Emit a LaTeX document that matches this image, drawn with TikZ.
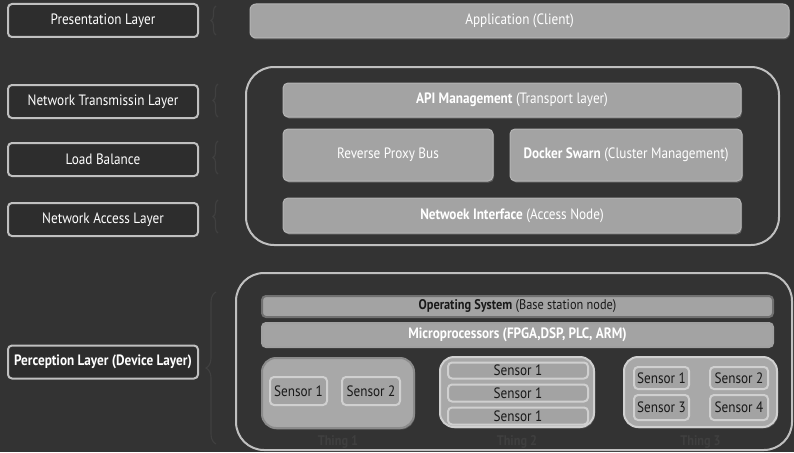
\documentclass[tikz,border=0pt]{standalone}
\usepackage{fontspec}
\setmainfont{PT Sans}[FakeStretch=0.88]
\usetikzlibrary{positioning,decorations.pathreplacing,shadows}
\definecolor{bgdark}{RGB}{51,51,51}
\definecolor{labelfill}{RGB}{45,45,45}
\definecolor{rimgray}{RGB}{192,192,192}
\definecolor{boxgray}{RGB}{163,163,163}
\definecolor{boxrim}{RGB}{180,180,180}
\definecolor{darkrim}{RGB}{112,112,112}
\definecolor{thingfill}{RGB}{168,168,168}
\definecolor{sensorrim}{RGB}{208,208,208}
\definecolor{ghost}{RGB}{64,64,64}

\begin{document}
\begin{tikzpicture}[x=1pt,y=-1pt,every node/.style={font=\fontsize{15}{17}\selectfont,align=center,inner sep=0pt},
  layerbox/.style={draw=rimgray,line width=2pt,rounded corners=4pt,fill=labelfill,text=white,minimum width=190pt,minimum height=33pt},
  graybox/.style={draw=boxrim,line width=1pt,rounded corners=5pt,fill=boxgray,text=white,drop shadow={opacity=0.55,shadow xshift=1pt,shadow yshift=-1.5pt}},
  container/.style={draw=rimgray,line width=2pt,rounded corners=28pt,fill=bgdark},
  barbox/.style={line width=2pt,rounded corners=4pt,fill=boxgray,minimum width=511pt},
  thingbox/.style={line width=2pt,rounded corners=14pt,fill=thingfill,minimum height=70pt,drop shadow={opacity=0.5,shadow xshift=1pt,shadow yshift=-1.5pt}},
  sensorbox/.style={draw=sensorrim,line width=2pt,rounded corners=4pt,fill=boxgray,text=black!90},
  ghostbrace/.style={draw=ghost,line width=1.1pt,decorate,decoration={brace,amplitude=5pt}},
  thinglabel/.style={text=ghost!92!bgdark,font=\fontsize{14}{16}\selectfont\bfseries}]
\fill[bgdark] (0,0) rectangle (794,452);
% left column
\node[layerbox] (pres) at (103,20.5) {Presentation Layer};
\node[layerbox,below=46pt of pres] (ntl) {Network Transmissin Layer};
\node[layerbox,below=23pt of ntl] (lb) {Load Balance};
\node[layerbox,below=25pt of lb] (nal) {Network Access Layer};
\node[layerbox,font=\fontsize{15}{17}\selectfont\bfseries] (perc) at (103,362) {Perception Layer (Device Layer)};
\draw[ghostbrace] (216,35) -- (216,6);
\draw[ghostbrace] (218,117) -- (218,84);
\draw[ghostbrace] (218,174) -- (218,141);
\draw[ghostbrace] (218,233) -- (218,200);
\draw[ghostbrace,decoration={amplitude=10pt}] (216,444) -- (216,292);
% application and network
\node[graybox,minimum width=539pt,minimum height=34pt,rounded corners=6pt] (app) at (519.5,21) {Application (Client)};
\node[container,minimum width=533pt,minimum height=178pt] (netbox) at (512.5,156) {};
\node[graybox,minimum width=458pt,minimum height=34pt] (api) at (512,100) {\textbf{API Management} (Transport layer)};
\node[graybox,minimum width=210pt,minimum height=52pt] (rpb) at (388,155) {Reverse Proxy Bus};
\node[graybox,minimum width=232pt,minimum height=52pt,right=16pt of rpb] (dsw) {\textbf{Docker Swarn} (Cluster Management)};
\node[graybox,minimum width=458pt,minimum height=35pt] (nif) at (512,215.5) {\textbf{Netwoek Interface} (Access Node)};
% device layer
\node[container,minimum width=556pt,minimum height=177pt] (devbox) at (514,361.5) {};
\node[barbox,draw=darkrim,minimum height=21pt,text=black!90,font=\fontsize{14}{16}\selectfont] (os) at (517.5,306.5) {\textbf{Operating System} (Base station node)};
\node[barbox,draw=boxrim!70!darkrim,minimum height=24pt,text=white,font=\fontsize{15}{17}\selectfont\bfseries] (mp) at (517.5,335) {Microprocessors (FPGA,DSP, PLC, ARM)};
\node[thingbox,draw=boxrim!40!darkrim,minimum width=152pt] (t1) at (338,393) {};
\node[thingbox,draw=sensorrim,minimum width=154pt] (t2) at (517,392) {};
\node[thingbox,draw=sensorrim,minimum width=153pt] (t3) at (700.5,392) {};
\node[sensorbox,minimum width=57pt,minimum height=28pt] (t1a) at (298.5,391) {Sensor 1};
\node[sensorbox,minimum width=58pt,minimum height=28pt,right=13pt of t1a] (t1b) {Sensor 2};
\node[sensorbox,minimum width=140pt,minimum height=16pt] (t2a) at (518,370.5) {Sensor 1};
\node[sensorbox,minimum width=140pt,minimum height=17pt,below=4pt of t2a] (t2b) {Sensor 1};
\node[sensorbox,minimum width=140pt,minimum height=17pt,below=4pt of t2b] (t2c) {Sensor 1};
\node[sensorbox,minimum width=55pt,minimum height=22pt] (t3a) at (661.5,378) {Sensor 1};
\node[sensorbox,minimum width=58pt,minimum height=22pt] (t3b) at (739,378) {Sensor 2};
\node[sensorbox,minimum width=55pt,minimum height=25pt] (t3c) at (661.5,407.5) {Sensor 3};
\node[sensorbox,minimum width=58pt,minimum height=25pt] (t3d) at (739,407.5) {Sensor 4};
\node[thinglabel,below=6pt of t1] (t1l) {Thing 1};
\node[thinglabel,below=7pt of t2] (t2l) {Thing 2};
\node[thinglabel,below=7pt of t3] (t3l) {Thing 3};
\end{tikzpicture}
\end{document}
